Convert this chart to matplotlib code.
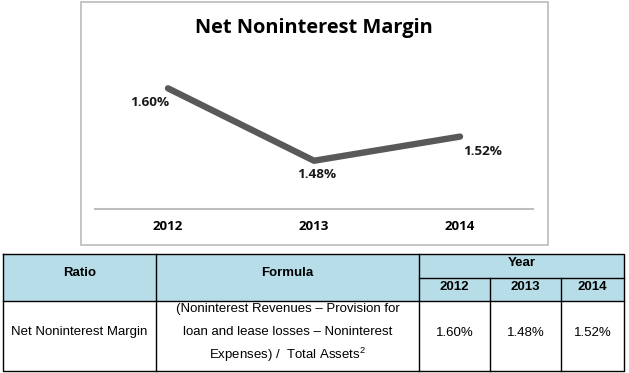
import matplotlib.pyplot as plt
from matplotlib.patches import Rectangle

# data
years = ["2012", "2013", "2014"]
margin = [1.60, 1.48, 1.52]
value_labels = ["1.60%", "1.48%", "1.52%"]
ratio_name = "Net Noninterest Margin"
formula_lines = ["(Noninterest Revenues \u2013 Provision for",
                 "loan and lease losses \u2013 Noninterest",
                 "Expenses) /  Total Assets$^{2}$"]

plt.rcParams["mathtext.fontset"] = "custom"
plt.rcParams["mathtext.rm"] = "Liberation Sans"
plt.rcParams["mathtext.it"] = "Liberation Sans"
plt.rcParams["mathtext.default"] = "rm"

W, H = 629, 373
fig = plt.figure(figsize=(W / 100, H / 100), dpi=100)

# overlay in pixel coords for the box + table
bg = fig.add_axes([0, 0, 1, 1])
bg.set_xlim(0, W)
bg.set_ylim(H, 0)
bg.axis("off")

# chart box
bg.add_patch(Rectangle((81, 2), 467, 243, fill=False, edgecolor="#c0c0c0", lw=1.3))

# line chart
ax = fig.add_axes([95 / W, (H - 209) / H, (533 - 95) / W, (209 - 28) / H])
x = range(len(years))
ax.plot(x, margin, color="#595959", lw=4.6, solid_capstyle="round", solid_joinstyle="round")
ax.set_xlim(-0.5, 2.5)
ax.set_ylim(1.40, 1.70)
for s in ["top", "right", "left"]:
    ax.spines[s].set_visible(False)
ax.spines["bottom"].set_color("#bfbfbf")
ax.spines["bottom"].set_linewidth(1.5)
ax.set_yticks([])
ax.set_xticks(list(x))
ax.set_xticklabels(years, fontfamily="Open Sans", fontweight="bold", fontsize=9.5)
ax.tick_params(axis="x", length=0, pad=8)
ax.patch.set_alpha(0)

offsets = [(-18, -14), (3, -14), (23, -15)]
for i, (v, lab) in enumerate(zip(margin, value_labels)):
    ax.annotate(lab, (i, v), xytext=offsets[i], textcoords="offset pixels",
                ha="center", va="center", fontfamily="Open Sans",
                fontweight="bold", fontsize=9.7, color="#1a1a1a")

bg.text(314, 28, "Net Noninterest Margin", ha="center", va="center",
        fontfamily="Open Sans", fontweight="bold", fontsize=14.4, color="#000000")

# table
hdr = "#b7dde8"
L, R, T, B = 3, 624, 254, 371
c1, c2, c3, c4 = 156, 419, 490, 561
yr_row, hdr_bot = 278, 301
bg.add_patch(Rectangle((L, T), R - L, hdr_bot - T, facecolor=hdr, edgecolor="none"))
lk = dict(color="black", lw=1.0)
bg.plot([L, R, R, L, L], [T, T, B, B, T], **lk)
bg.plot([L, R], [hdr_bot, hdr_bot], **lk)
bg.plot([c2, R], [yr_row, yr_row], **lk)
for cx in (c1, c2):
    bg.plot([cx, cx], [T, B], **lk)
for cx in (c3, c4):
    bg.plot([cx, cx], [yr_row, B], **lk)

tf = dict(fontfamily="Liberation Sans", fontsize=9.5, ha="center", va="center")
bg.text((L + c1) / 2, 273, "Ratio", fontweight="bold", **tf)
bg.text((c1 + c2) / 2, 273, "Formula", fontweight="bold", **tf)
bg.text((c2 + R) / 2, 263, "Year", fontweight="bold", **tf)
cols = [(c2, c3), (c3, c4), (c4, R)]
for (a, b), yr, lab in zip(cols, years, value_labels):
    bg.text((a + b) / 2, 287, yr, fontweight="bold", **tf)
    bg.text((a + b) / 2, 333, lab, **tf)
bg.text((L + c1) / 2, 332, ratio_name, **tf)
for yy, line in zip([309, 332, 355], formula_lines):
    bg.text((c1 + c2) / 2, yy, line, **tf)

fig.savefig("out.png", dpi=100)
